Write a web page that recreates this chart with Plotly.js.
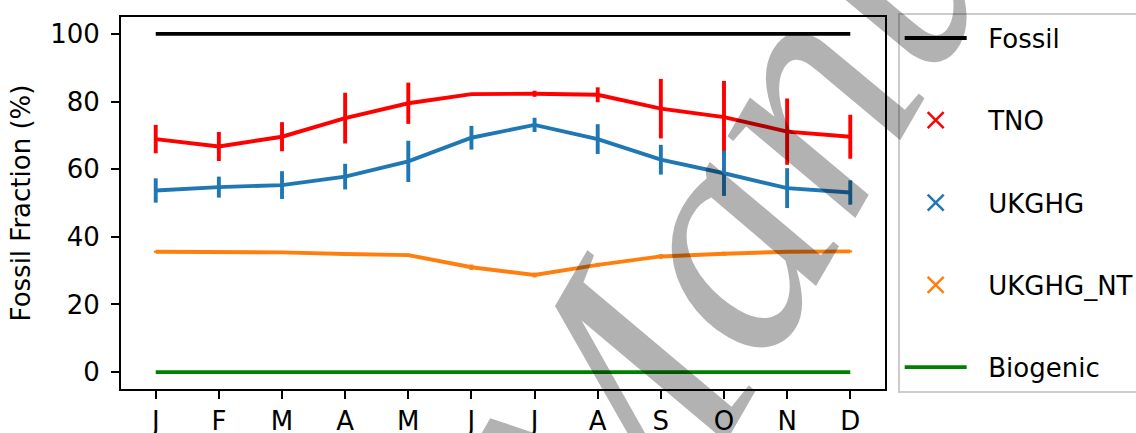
<!DOCTYPE html>
<html>
<head>
<meta charset="utf-8">
<script src="https://cdn.plot.ly/plotly-3.0.1.min.js"></script>
<style>
  html, body { margin: 0; padding: 0; background: #ffffff; }
  #chart { width: 1136px; height: 433px; }
</style>
</head>
<body>
<div id="chart"></div>
<script>
// Monthly fossil fraction of emissions (%), with uncertainty
const months = ['J', 'F', 'M', 'A', 'M', 'J', 'J', 'A', 'S', 'O', 'N', 'D'];

const fossil   = [100, 100, 100, 100, 100, 100, 100, 100, 100, 100, 100, 100];
const biogenic = [0, 0, 0, 0, 0, 0, 0, 0, 0, 0, 0, 0];

const tno      = [68.9, 66.7, 69.6, 75.1, 79.5, 82.2, 82.3, 82.0, 77.9, 75.4, 71.1, 69.6];
const tnoErr   = [4.2, 4.3, 4.3, 7.5, 6.1, 0.3, 0.9, 2.2, 8.8, 10.7, 9.8, 6.5];

const ukghg    = [53.7, 54.7, 55.3, 57.8, 62.3, 69.3, 73.1, 68.9, 62.8, 58.8, 54.4, 53.1];
const ukghgErr = [3.6, 3.1, 4.1, 3.8, 6.1, 3.5, 2.1, 4.4, 4.4, 6.7, 5.9, 3.6];

const ukghgNt    = [35.6, 35.5, 35.4, 34.9, 34.6, 31.0, 28.7, 31.7, 34.2, 35.0, 35.6, 35.7];
const ukghgNtErr = [0.3, 0.3, 0.4, 0.6, 0.4, 0.8, 0.7, 0.6, 0.7, 0.6, 0.4, 0.3];

const xIdx = months.map((_, i) => i);

const FONT = 'DejaVu Sans, sans-serif';
const FS = 26;
const LW = 3.9;
const PAD = '\u00a0\u00a0';   // extra room between legend symbol and label

function lineTrace(y, color) {
  return {
    x: xIdx, y: y, type: 'scatter', mode: 'lines',
    line: { color: color, width: LW },
    showlegend: false, hoverinfo: 'skip'
  };
}

function errTrace(y, err, color) {
  return {
    x: xIdx, y: y, type: 'scatter', mode: 'lines',
    line: { color: color, width: LW },
    error_y: { type: 'data', array: err, visible: true, color: color, thickness: LW, width: 0 },
    showlegend: false, hoverinfo: 'skip'
  };
}

// legend-only entries (no plotted points)
function legendLine(name, color, group) {
  return {
    x: [null], y: [null], type: 'scatter', mode: 'lines', name: PAD + name,
    line: { color: color, width: LW }, legendgroup: group
  };
}
function legendCross(name, color, group) {
  return {
    x: [null], y: [null], type: 'scatter', mode: 'markers', name: PAD + name,
    marker: { symbol: 'x-thin', size: 17, color: color, line: { color: color, width: 2.5 } },
    legendgroup: group
  };
}

const data = [
  lineTrace(fossil, '#000000'),
  errTrace(tno, tnoErr, '#ff0000'),
  errTrace(ukghg, ukghgErr, '#1f77b4'),
  errTrace(ukghgNt, ukghgNtErr, '#ff7f0e'),
  lineTrace(biogenic, '#008000'),
  legendLine('Fossil', '#000000', 'g1'),
  legendCross('TNO', '#ff0000', 'g2'),
  legendCross('UKGHG', '#1f77b4', 'g3'),
  legendCross('UKGHG_NT', '#ff7f0e', 'g4'),
  legendLine('Biogenic', '#008000', 'g5')
];

const axisCommon = {
  showline: true, mirror: true, linecolor: '#000000', linewidth: 2,
  ticks: 'outside', ticklen: 8, tickwidth: 2, tickcolor: '#000000',
  showgrid: false, zeroline: false,
  tickfont: { family: FONT, size: FS, color: '#000000' }
};

const layout = {
  width: 1136, height: 433,
  margin: { l: 121, r: 251, t: 17, b: 44, autoexpand: false },
  paper_bgcolor: '#ffffff', plot_bgcolor: '#ffffff',
  xaxis: Object.assign({}, axisCommon, {
    range: [-0.55, 11.55],
    tickmode: 'array', tickvals: xIdx, ticktext: months,
    ticklabelstandoff: 0
  }),
  yaxis: Object.assign({}, axisCommon, {
    range: [-5, 105],
    tickmode: 'array', tickvals: [0, 20, 40, 60, 80, 100],
    ticklabelstandoff: 6,
    title: { text: 'Fossil Fraction (%)', font: { family: FONT, size: FS, color: '#000000' }, standoff: 12 }
  }),
  showlegend: true,
  legend: {
    x: 1.0166, xanchor: 'left', y: 1.012, yanchor: 'top',
    bgcolor: '#ffffff', bordercolor: '#cccccc', borderwidth: 2,
    font: { family: FONT, size: FS, color: '#000000' },
    tracegroupgap: 45.5, itemwidth: 62, maxheight: 600,
    traceorder: 'grouped'
  },
  annotations: [{
    text: 'Author Manuscript',
    xref: 'paper', yref: 'paper', x: 0.708, y: 0.156,
    xanchor: 'center', yanchor: 'middle',
    showarrow: false, textangle: -60,
    font: { family: 'Liberation Serif, serif', style: 'italic', size: 330, color: 'rgba(0,0,0,0.3)' }
  }]
};

Plotly.newPlot('chart', data, layout, { staticPlot: true, displayModeBar: false });
</script>
</body>
</html>
